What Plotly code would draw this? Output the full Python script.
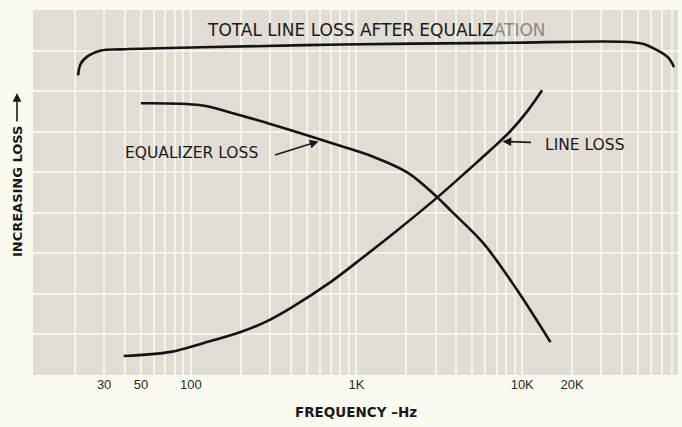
import math
import plotly.graph_objects as go

# ---- data ----
freq_total = [20.9, 21.7, 24.3, 28.7, 37.9, 115, 813, 7365, 44700, 55100, 62400, 75800, 82400]
loss_total = [7.39, 7.68, 7.88, 8.00, 8.03, 8.08, 8.15, 8.19, 8.21, 8.15, 8.05, 7.83, 7.59]

freq_eq = [50.0, 115, 182, 291, 460, 813, 1283, 2056, 3076, 3734, 5821, 9333, 14800]
loss_eq = [6.70, 6.65, 6.45, 6.21, 5.96, 5.64, 5.37, 4.98, 4.38, 4.04, 3.25, 2.09, 0.81]

freq_line = [39.4, 75.8, 120, 200, 283, 400, 697, 1102, 1766, 3076, 4864, 6412, 8476, 10715, 13183]
loss_line = [0.47, 0.57, 0.79, 1.06, 1.31, 1.65, 2.29, 2.91, 3.57, 4.38, 5.10, 5.54, 6.01, 6.50, 7.02]

tick_labels = {30: "30", 50: "50", 100: "100", 1000: "1K", 10000: "10K", 20000: "20K"}
grid_freqs = [m * 10 ** d for d in range(1, 5) for m in range(1, 10)]

title_text = "TOTAL LINE LOSS AFTER EQUALIZ<span style='color:#8a8a84'>ATION</span>"
eq_label = "EQUALIZER LOSS"
line_label = "LINE LOSS"
x_title = "FREQUENCY –Hz"
y_title = "INCREASING LOSS"

# ---- figure ----
fig = go.Figure()
line_style = dict(color="#141414", width=2.6, shape="spline", smoothing=1.0)
for fx, fy in [(freq_total, loss_total), (freq_eq, loss_eq), (freq_line, loss_line)]:
    fig.add_trace(go.Scatter(x=fx, y=fy, mode="lines", line=line_style,
                             hoverinfo="skip", showlegend=False))

grid_col = "#f6f3e9"
fig.update_xaxes(
    type="log", range=[1.048, 4.94],
    tickvals=grid_freqs,
    ticktext=[tick_labels.get(v, "") for v in grid_freqs],
    showgrid=True, gridcolor=grid_col, gridwidth=1.6,
    zeroline=False, showline=False, ticks="",
    tickfont=dict(family="Liberation Sans", size=13, color="#2a2a2a"),
)
fig.update_yaxes(
    range=[0, 9], dtick=1, showticklabels=False,
    showgrid=True, gridcolor=grid_col, gridwidth=2,
    zeroline=False, showline=False, ticks="",
)

txt_font = dict(family="DejaVu Sans", size=15.5, color="#1a1a1a")
center = dict(xanchor="center", yanchor="middle", showarrow=False)
fig.add_annotation(text=title_text, xref="paper", yref="paper", x=0.532, y=0.945,
                   font=dict(family="DejaVu Sans", size=17, color="#1a1a1a"), **center)
fig.add_annotation(text=eq_label, xref="paper", yref="paper", x=0.2465, y=0.608,
                   font=txt_font, **center)
fig.add_annotation(text=line_label, xref="paper", yref="paper", x=0.855, y=0.630,
                   font=txt_font, **center)
# arrows pointing at curves
fig.add_annotation(text="", x=math.log10(590), y=5.76, xref="x", yref="y",
                   ax=-45, ay=14, showarrow=True, arrowhead=2, arrowsize=1.1,
                   arrowwidth=1.6, arrowcolor="#1a1a1a")
fig.add_annotation(text="", x=math.log10(7600), y=5.76, xref="x", yref="y",
                   ax=30, ay=1, showarrow=True, arrowhead=2, arrowsize=1.1,
                   arrowwidth=1.6, arrowcolor="#1a1a1a")
# axis titles
fig.add_annotation(text=x_title, xref="paper", yref="paper", x=0.5008, y=-0.101,
                   font=dict(family="DejaVu Sans", size=13.5, color="#1a1a1a", weight="bold"),
                   **center)
fig.add_annotation(text=y_title, xref="paper", yref="paper", x=-0.0248, y=0.504,
                   textangle=-90,
                   font=dict(family="DejaVu Sans", size=13, color="#1a1a1a", weight="bold"),
                   **center)
fig.add_annotation(text="", xref="paper", yref="paper", x=-0.0248, y=0.7726,
                   ax=0, ay=30, showarrow=True, arrowhead=2, arrowsize=1.1,
                   arrowwidth=1.6, arrowcolor="#1a1a1a")

fig.update_layout(
    width=682, height=427, autosize=False,
    margin=dict(l=33, r=4, t=10, b=52),
    plot_bgcolor="#e1dcd4", paper_bgcolor="#fbfaf1",
    showlegend=False,
)
fig.write_html(
    "out.html",
    config={"displayModeBar": False},
    post_script="document.body.style.margin='0';document.body.style.overflow='hidden';"
                "document.body.style.background='#fbfaf1';",
)
